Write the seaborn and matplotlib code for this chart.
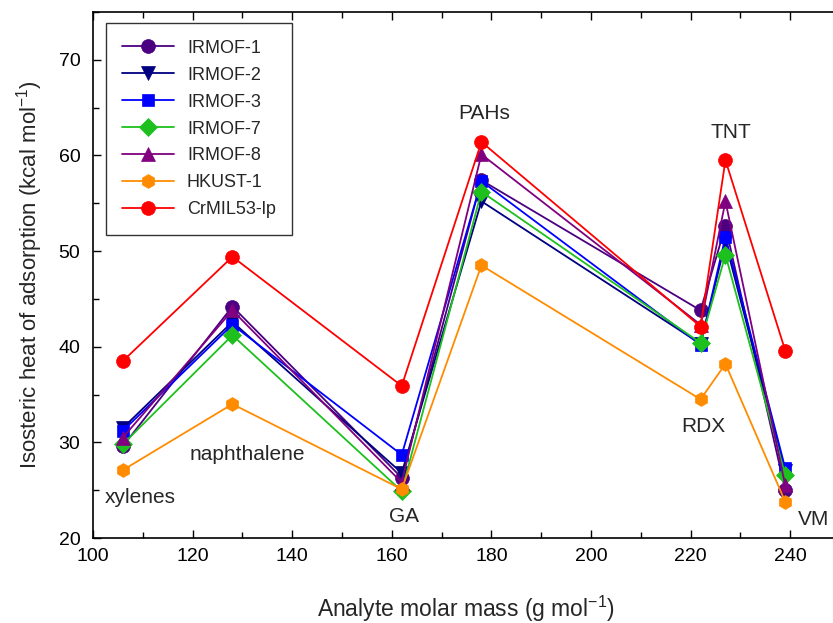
import matplotlib
matplotlib.use("Agg")
import matplotlib.pyplot as plt
import seaborn as sns
import pandas as pd
from matplotlib.ticker import MultipleLocator

# ---- data ----
molar_mass = [106, 128, 162, 178, 222, 227, 239]
analytes = ["xylenes", "naphthalene", "GA", "PAHs", "RDX", "TNT", "VM"]

irmof1 = [29.6, 44.2, 26.3, 57.4, 43.8, 52.6, 25.0]
irmof2 = [31.5, 42.6, 26.8, 55.2, 40.3, 50.9, 27.0]
irmof3 = [31.2, 42.3, 28.7, 57.3, 40.2, 51.5, 27.3]
irmof7 = [29.8, 41.2, 24.9, 56.2, 40.4, 49.6, 26.6]
irmof8 = [30.5, 43.8, 25.8, 60.1, 42.3, 55.2, 25.5]
hkust1 = [27.1, 34.0, 25.1, 48.5, 34.5, 38.2, 23.8]
crmil53 = [38.5, 49.4, 35.9, 61.4, 42.1, 59.5, 39.6]

series_names = ["IRMOF-1", "IRMOF-2", "IRMOF-3", "IRMOF-7", "IRMOF-8", "HKUST-1", "CrMIL53-lp"]
series_values = [irmof1, irmof2, irmof3, irmof7, irmof8, hkust1, crmil53]

# ---- styles ----
colors = {"IRMOF-1": "#4B0082", "IRMOF-2": "#000080", "IRMOF-3": "#0000FF",
          "IRMOF-7": "#1DC01D", "IRMOF-8": "#800080", "HKUST-1": "#FF8C00",
          "CrMIL53-lp": "#FF0000"}
markers = {"IRMOF-1": "o", "IRMOF-2": "v", "IRMOF-3": "s", "IRMOF-7": "D",
           "IRMOF-8": "^", "HKUST-1": "h", "CrMIL53-lp": "o"}
msizes = {"IRMOF-1": 10, "IRMOF-2": 10, "IRMOF-3": 9, "IRMOF-7": 9,
          "IRMOF-8": 10, "HKUST-1": 10, "CrMIL53-lp": 10}

rows = []
for name, vals in zip(series_names, series_values):
    for x, y in zip(molar_mass, vals):
        rows.append({"mass": x, "heat": y, "series": name})
df = pd.DataFrame(rows)

sns.set_style("ticks")
plt.rcParams["font.family"] = ["Liberation Sans", "DejaVu Sans"]
plt.rcParams["mathtext.fontset"] = "custom"
plt.rcParams["mathtext.rm"] = "Liberation Sans"
plt.rcParams["mathtext.it"] = "Liberation Sans"

fig = plt.figure(figsize=(8.33, 6.23), dpi=100)
ax = fig.add_axes([0.1116, 0.1364, 0.8968, 0.8446])

for name in series_names:
    sub = df[df["series"] == name]
    sns.lineplot(data=sub, x="mass", y="heat", ax=ax, color=colors[name],
                 marker=markers[name], markersize=msizes[name],
                 markeredgewidth=0.5, markeredgecolor=colors[name],
                 linewidth=1.3, label=name, sort=False)

ax.set_xlim(100, 250)
ax.set_ylim(20, 75)
ax.xaxis.set_major_locator(MultipleLocator(20))
ax.xaxis.set_minor_locator(MultipleLocator(10))
ax.yaxis.set_major_locator(MultipleLocator(10))
ax.yaxis.set_minor_locator(MultipleLocator(5))
ax.tick_params(which="both", direction="in", top=True, right=False,
               labelsize=14, width=1, colors="black")
ax.tick_params(which="major", length=6)
ax.tick_params(which="minor", length=4)
ax.tick_params(axis="x", which="both", pad=7)
ax.tick_params(axis="y", which="both", pad=9)
for side in ["left", "bottom", "top"]:
    ax.spines[side].set_linewidth(1.2)
    ax.spines[side].set_color("black")
ax.spines["right"].set_visible(False)

ax.set_xlabel("Analyte molar mass (g mol$^{-1}$)", fontsize=16.5, labelpad=21)
ax.set_ylabel("Isosteric heat of adsorption (kcal mol$^{-1}$)", fontsize=16, labelpad=10)

# analyte annotations
label_pos = {"xylenes": (109.5, 24.2, "center"), "naphthalene": (131, 28.7, "center"),
             "GA": (162.4, 22.2, "center"), "PAHs": (178.5, 64.4, "center"),
             "RDX": (222.5, 31.7, "center"), "TNT": (228, 62.4, "center"),
             "VM": (241.5, 21.9, "left")}
for name in analytes:
    x, y, ha = label_pos[name]
    ax.text(x, y, name, fontsize=15, ha=ha, va="center")

leg = ax.legend(loc="upper left", bbox_to_anchor=(0.005, 0.995), fontsize=13,
                frameon=True, fancybox=False, edgecolor="black",
                handlelength=2.9, labelspacing=0.55, borderpad=0.9,
                handletextpad=0.7)
leg.get_frame().set_linewidth(1.0)

fig.savefig("out.png", dpi=100)
